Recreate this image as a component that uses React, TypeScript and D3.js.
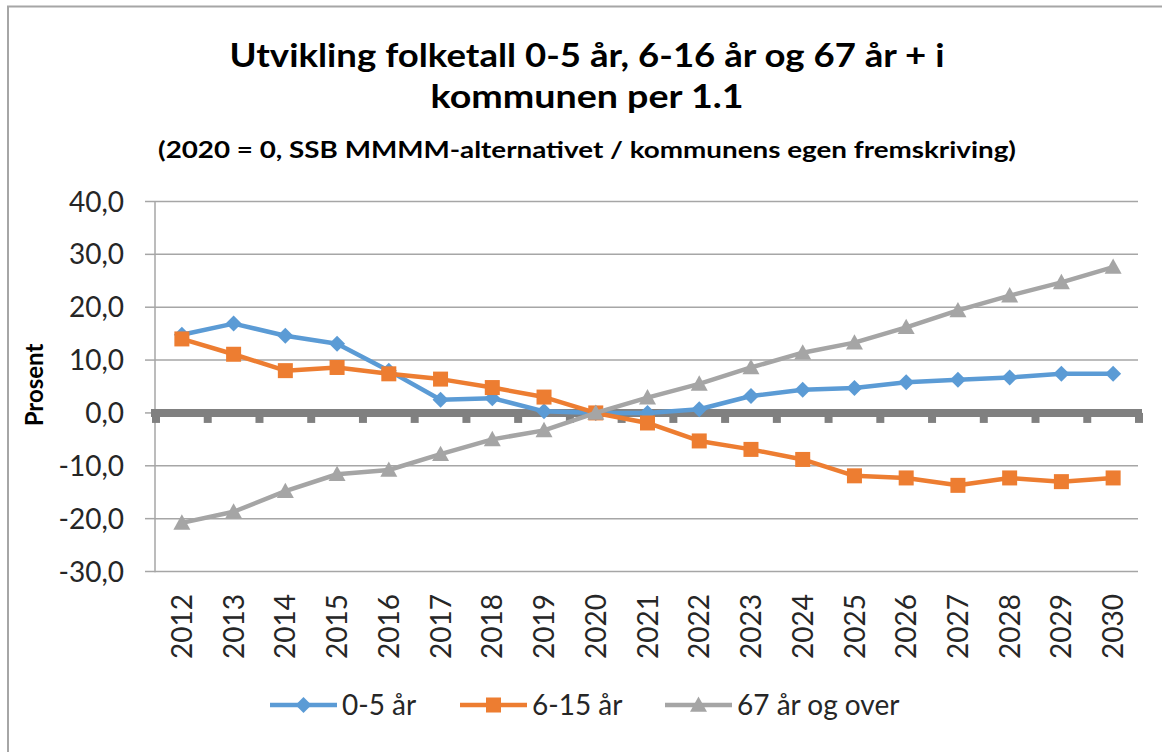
import React from "react";
import * as d3 from "d3";

const years = ["2012","2013","2014","2015","2016","2017","2018","2019","2020","2021","2022","2023","2024","2025","2026","2027","2028","2029","2030"];
const age0to5 = [14.8, 16.9, 14.6, 13.1, 8.0, 2.5, 2.8, 0.3, 0, 0.0, 0.7, 3.2, 4.4, 4.7, 5.8, 6.3, 6.7, 7.4, 7.4];
const age6to15 = [14.0, 11.1, 8.0, 8.6, 7.4, 6.4, 4.8, 3.0, 0, -1.9, -5.3, -6.9, -8.8, -11.9, -12.3, -13.7, -12.3, -13.0, -12.3];
const age67plus = [-20.8, -18.7, -14.8, -11.6, -10.8, -7.8, -5.0, -3.3, 0, 2.9, 5.5, 8.6, 11.4, 13.3, 16.2, 19.4, 22.2, 24.7, 27.6];
const yTicks = [-30, -20, -10, 0, 10, 20, 30, 40];
const seriesNames = ["0-5 år", "6-15 år", "67 år og over"];
const titleLines = ["Utvikling folketall 0-5 år, 6-16 år og 67 år + i", "kommunen per 1.1"];
const subtitle = "(2020 = 0, SSB MMMM-alternativet / kommunens egen fremskriving)";
const yAxisTitle = "Prosent";

const FONT = "Lato, 'Open Sans', sans-serif";
const colors = ["#5B9BD5", "#ED7D31", "#A5A5A5"];
const shapes = ["diamond", "square", "triangle"];

function Marker({ shape, x, y, color }: { shape: string; x: number; y: number; color: string }) {
  if (shape === "diamond") {
    const s = 8;
    return <path d={`M${x},${y - s}L${x + s},${y}L${x},${y + s}L${x - s},${y}Z`} fill={color} />;
  }
  if (shape === "square") {
    const s = 7.5;
    return <rect x={x - s} y={y - s} width={2 * s} height={2 * s} fill={color} />;
  }
  const s = 8.5;
  return <path d={`M${x},${y - s}L${x + s},${y + s * 0.8}L${x - s},${y + s * 0.8}Z`} fill={color} />;
}

const fmt = (t: number) => d3.format(".1f")(t).replace(".", ",").replace("\u2212", "-");

export default function App() {
  const W = 1162, H = 752;
  const x = d3.scaleBand<string>().domain(years).range([156, 1139]).padding(0);
  const cx = (d: string) => (x(d) as number) + x.bandwidth() / 2;
  const y = d3.scaleLinear().domain([-30, 40]).range([571.5, 201.5]);
  const series = [age0to5, age6to15, age67plus];
  const line = d3.line<number>().x((_, i) => cx(years[i])).y((v) => y(v));
  const boundaries = years.map((d) => x(d) as number).concat([x.range()[1]]);

  const legendX = [270, 460, 665];

  return (
    <svg width={W} height={H} style={{ position: "absolute", left: 0, top: 0, background: "#fff" }} fontFamily={FONT}>
      <rect x={8} y={6.5} width={W + 20} height={H + 20} fill="#fff" stroke="#a6a6a6" strokeWidth={2} />
      {/* Titles */}
      <text x={587} y={67} textAnchor="middle" fontSize={33} fontWeight={700} fill="#000" textLength={715} lengthAdjust="spacingAndGlyphs">{titleLines[0]}</text>
      <text x={587} y={108} textAnchor="middle" fontSize={33} fontWeight={700} fill="#000" textLength={313} lengthAdjust="spacingAndGlyphs">{titleLines[1]}</text>
      <text x={587} y={158} textAnchor="middle" fontSize={23.5} fontWeight={700} fill="#000" textLength={858} lengthAdjust="spacingAndGlyphs">{subtitle}</text>

      {/* Gridlines */}
      {yTicks.map((t) => (
        <g key={t}>
          {t !== 0 && <line x1={155} x2={1138} y1={y(t)} y2={y(t)} stroke="#a6a6a6" strokeWidth={1.5} />}
          <line x1={145} x2={155} y1={y(t)} y2={y(t)} stroke="#a6a6a6" strokeWidth={1.5} />
          <text x={124} y={y(t)} dy="0.36em" textAnchor="end" fontSize={28} fill="#262626">{fmt(t)}</text>
        </g>
      ))}
      {/* Y axis line */}
      <line x1={155} x2={155} y1={y(40)} y2={y(-30) + 0.75} stroke="#a6a6a6" strokeWidth={1.5} />
      {/* Zero axis thick */}
      <line x1={151} x2={1142} y1={y(0)} y2={y(0)} stroke="#808080" strokeWidth={8} />
      {boundaries.map((b, i) => (
        <line key={i} x1={b} x2={b} y1={y(0)} y2={y(0) + 10} stroke="#808080" strokeWidth={8} />
      ))}

      {/* X labels */}
      {years.map((d) => (
        <text key={d} transform={`translate(${cx(d)},594) rotate(-90)`} dy="0.36em" textAnchor="end" fontSize={28} fill="#262626">{d}</text>
      ))}

      {/* Y axis title */}
      <text transform="translate(43,385) rotate(-90)" textAnchor="middle" fontSize={24} fontWeight={700} fill="#000">{yAxisTitle}</text>

      {/* Series */}
      {series.map((s, si) => (
        <g key={si}>
          <path d={line(s) as string} fill="none" stroke={colors[si]} strokeWidth={4.5} strokeLinejoin="round" />
          {s.map((v, i) => (
            <Marker key={i} shape={shapes[si]} x={cx(years[i])} y={y(v)} color={colors[si]} />
          ))}
        </g>
      ))}

      {/* Legend */}
      {seriesNames.map((n, i) => (
        <g key={n}>
          <line x1={legendX[i]} x2={legendX[i] + 67} y1={705} y2={705} stroke={colors[i]} strokeWidth={4.5} />
          <Marker shape={shapes[i]} x={legendX[i] + 33.5} y={705} color={colors[i]} />
          <text x={legendX[i] + 72} y={705} dy="0.36em" fontSize={28} fill="#262626">{n}</text>
        </g>
      ))}
    </svg>
  );
}
